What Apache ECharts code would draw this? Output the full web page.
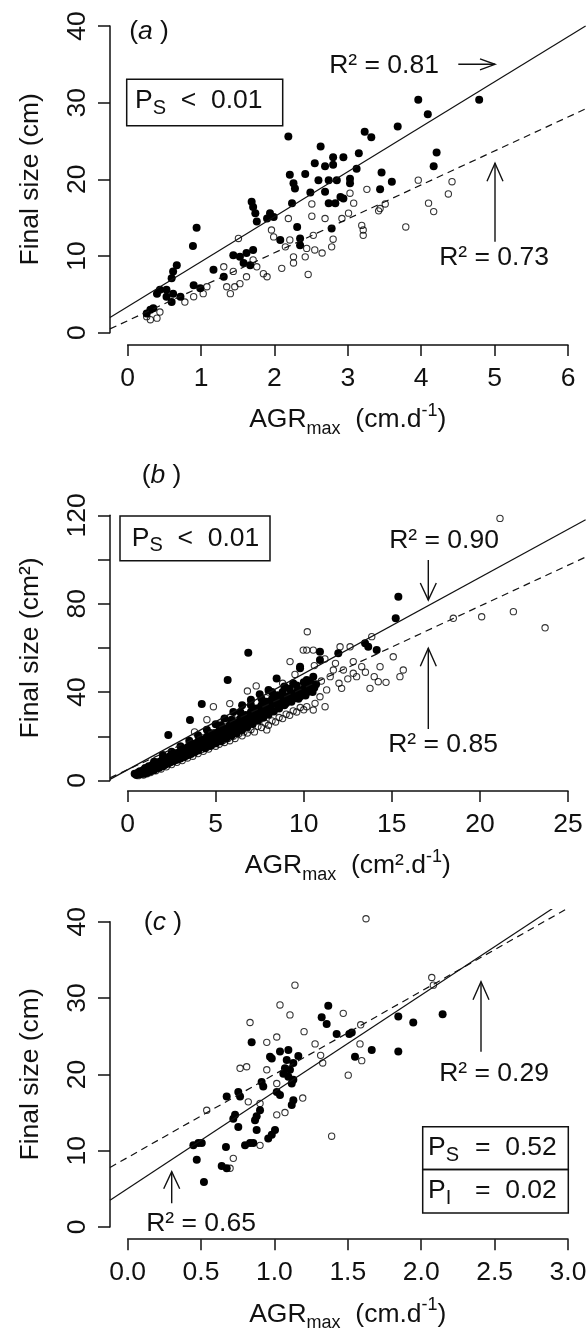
<!DOCTYPE html>
<html><head><meta charset="utf-8">
<script src="https://cdn.jsdelivr.net/npm/echarts@6/dist/echarts.min.js"></script>
<style>html,body{margin:0;padding:0;background:#fff}#c{width:588px;height:1334px}</style>
</head><body><div id="c"></div>
<script>
// ---------------- DATA ----------------
// Panel (a): length, AGRmax (cm/d) vs final size (cm)
const a_filled = [[3.96,30.4],[4.79,30.4],[4.09,28.5],[3.68,26.9],[3.23,26.2],[3.32,25.5],[2.63,24.3],[3.15,23.4],[4.21,23.5],[2.80,22.9],[2.94,22.9],[2.55,22.1],[2.69,21.7],[2.80,21.9],[3.12,21.4],[4.17,21.7],[2.42,20.7],[2.60,19.9],[2.74,19.9],[2.85,19.9],[3.03,20.1],[3.03,19.5],[3.46,20.9],[3.60,19.7],[3.44,18.7],[2.49,18.3],[2.69,18.4],[2.90,17.7],[2.74,16.9],[2.83,16.9],[2.94,17.5],[2.35,12.3],[2.35,11.4],[2.21,20.6],[2.26,19.5],[2.28,18.8],[1.69,17.1],[1.71,16.4],[1.74,15.6],[2.24,16.9],[1.94,15.6],[1.99,15.1],[1.90,14.9],[1.76,14.5],[2.31,13.8],[0.94,13.7],[0.89,11.3],[2.08,12.1],[1.44,10.1],[1.53,9.9],[1.62,10.4],[1.71,10.8],[1.58,9.1],[1.67,8.8],[1.17,8.2],[1.31,7.3],[0.67,8.8],[0.62,8.0],[0.60,7.1],[0.90,6.2],[0.99,5.8],[0.44,5.6],[0.53,5.6],[0.62,5.1],[0.53,4.7],[0.60,4.0],[0.72,4.7],[0.40,5.1],[0.31,3.0],[0.35,3.2],[0.26,2.5],[2.19,25.6],[2.78,13.6]];
const a_open = [[3.96,19.9],[4.42,19.7],[4.37,18.1],[3.26,18.7],[3.03,18.2],[3.08,16.9],[2.51,16.8],[2.51,15.2],[2.69,14.9],[2.92,14.9],[3.01,15.6],[3.19,14.0],[3.21,13.4],[3.21,12.7],[3.44,16.2],[3.51,16.8],[3.42,15.9],[4.10,16.9],[4.17,15.8],[3.79,13.8],[2.80,12.2],[2.53,12.7],[2.44,11.0],[2.55,10.8],[2.65,10.4],[2.78,11.2],[2.42,9.9],[2.46,7.6],[1.51,12.3],[2.19,14.9],[1.96,13.4],[1.99,12.5],[2.21,12.1],[2.15,11.2],[2.26,9.9],[2.26,9.1],[2.10,8.4],[1.71,9.5],[1.76,8.6],[1.85,7.7],[1.90,7.3],[1.62,7.3],[1.44,8.0],[1.53,6.4],[1.46,6.0],[1.31,8.6],[1.35,6.0],[1.40,5.1],[1.08,6.0],[1.03,5.1],[0.90,4.7],[0.78,4.0],[0.44,2.7],[0.40,1.9],[0.26,2.1],[0.31,1.7]];
const a_solid = [[-0.24,2.0],[6.24,40.0]];
const a_dashed = [[-0.24,0.5],[6.24,29.2]];

// Panel (b): area, AGRmax (cm2/d) vs final size (cm2)
const b_filled = [[15.37,83.2],[15.22,73.4],[13.48,62.1],[13.66,60.5],[14.14,59.0],[10.92,58.3],[10.92,54.5],[11.96,57.6],[9.79,51.5],[10.17,45.5],[10.45,42.4],[6.85,57.8],[5.68,45.5],[4.21,34.6],[2.31,20.6],[9.79,50.8],[10.54,47.0],[8.46,46.2],[3.54,27.4],
[0.4,3.0],[0.5,2.5],[0.6,3.6],[0.7,2.8],[0.7,4.2],[0.8,3.4],[0.9,4.8],[0.9,3.0],[1.0,4.0],[1.0,5.6],[1.1,4.5],[1.1,3.5],[1.2,5.2],[1.2,6.4],[1.3,4.2],[1.3,5.8],[1.4,7.0],[1.4,5.0],[1.5,6.2],[1.5,4.6],[1.6,7.4],[1.6,5.6],[1.7,6.6],[1.7,8.2],[1.8,5.8],[1.8,7.6],[1.9,8.8],[1.9,6.6],[2.0,7.8],[2.0,9.6],[2.1,7.0],[2.1,8.6],[2.2,10.2],[2.2,7.6],[2.3,9.2],[2.4,11.0],[2.4,8.2],[2.5,9.8],[2.6,11.6],[2.6,8.8],[2.7,10.4],[2.8,12.4],[2.8,9.4],[2.9,11.0],[3.0,13.0],[3.0,10.0],[3.1,11.8],[3.2,14.0],[3.2,10.6],[3.3,12.4],[3.4,15.0],[3.4,11.4],[3.5,13.2],[3.6,15.8],[3.6,12.0],[3.7,14.0],[3.8,16.6],[3.8,12.8],[3.9,14.8],[4.0,17.6],[4.0,13.6],[4.2,15.6],[4.3,18.6],[4.4,14.6],[4.5,16.8],[4.6,19.6],[4.7,15.6],[4.8,18.0],[4.9,21.0],[5.0,16.8],[5.1,19.2],[5.2,22.4],[5.3,17.8],[5.4,20.4],[5.5,23.6],[5.6,19.0],[5.7,21.6],[5.8,25.0],[5.9,20.2],[6.0,23.0],[6.1,26.4],[6.2,21.4],[6.3,24.4],[6.4,28.0],[6.5,22.8],[6.6,25.8],[6.7,29.6],[6.8,24.2],[6.9,27.2],[7.0,31.0],[7.1,25.6],[7.2,28.6],[7.3,32.6],[7.4,27.0],[7.5,30.0],[7.6,34.0],[7.7,28.4],[7.8,31.6],[7.9,35.6],[8.0,29.8],[8.1,33.0],[8.2,37.0],[8.3,31.2],[8.4,34.6],[8.5,38.6],[8.6,32.6],[8.7,36.0],[8.8,40.0],[8.9,34.0],[9.0,37.6],[9.2,41.5],[9.3,35.6],[9.4,39.0],[9.6,43.0],[9.7,37.0],[9.8,40.6],[10.0,44.5],[10.1,38.5],[10.3,42.0],[10.5,40.0],[10.7,43.5],[2.5,13.0],[3.0,15.5],[3.5,18.0],[4.0,20.5],[4.5,23.0],[5.0,25.5],[5.5,28.0],[6.0,31.0],[6.5,34.0],[7.0,36.5],[7.5,39.0],[8.0,41.0],[2.0,11.5],[1.5,8.5],
[1.0,3.3],[1.2,4.9],[1.5,5.4],[1.8,6.9],[2.0,6.6],[2.2,9.0],[2.5,8.6],[2.7,11.5],[3.0,11.2],[3.2,12.5],[3.5,12.4],[3.7,16.0],[4.0,15.2],[4.1,18.0],[4.3,16.4],[4.5,19.8],[4.7,17.2],[4.9,18.6],[5.0,21.5],[5.2,20.0],[5.4,23.0],[5.6,21.5],[5.8,22.6],[6.0,25.0],[6.2,24.0],[6.4,25.5],[6.6,27.8],[6.8,26.5],[7.0,28.0],[7.2,30.5],[7.4,29.5],[7.6,31.0],[7.8,33.5],[8.0,32.5],[8.2,34.5],[8.4,36.0],[8.6,35.0],[8.8,37.5],[9.0,35.0],[9.2,38.5],[9.4,37.0],[9.6,40.0],[9.8,38.0],[10.0,41.5],[10.2,40.0],[10.4,44.0],[10.6,42.0],[9.4,44.0],[8.9,42.5],[8.2,40.0],[7.6,37.0],[7.0,34.0],[6.4,31.0],[5.9,27.5],[5.3,25.0],[4.7,21.5]];
const b_open = [[21.14,118.6],[10.20,67.3],[18.49,73.4],[20.10,74.1],[21.90,76.4],[23.70,69.1],[13.86,65.1],[15.08,56.0],[15.65,50.0],[15.46,47.0],[13.76,41.7],[14.23,44.7],[14.67,44.4],[10.17,59.0],[10.54,59.0],[12.06,60.5],[12.63,60.5],[12.81,53.8],[13.29,51.5],[11.68,50.0],[12.25,50.0],[12.81,48.5],[12.15,41.7],[11.30,41.0],[10.92,37.9],[10.64,34.9],[11.21,33.4],[10.17,33.4],[10.54,31.9],[14.33,51.5],[9.97,59.0],[9.22,53.8],[7.90,22.9],[4.87,33.4],
[0.6,2.2],[0.8,3.0],[0.9,2.5],[1.0,3.5],[1.1,3.0],[1.2,4.0],[1.3,3.6],[1.4,4.5],[1.5,5.0],[1.6,4.4],[1.7,5.5],[1.8,6.0],[1.9,5.2],[2.0,6.5],[2.1,7.0],[2.2,6.2],[2.3,7.5],[2.4,8.0],[2.5,7.2],[2.6,8.6],[2.7,9.0],[2.8,8.2],[2.9,9.6],[3.0,10.0],[3.1,9.0],[3.2,10.6],[3.3,11.0],[3.4,10.2],[3.5,11.8],[3.6,12.2],[3.7,11.0],[3.8,12.8],[3.9,13.4],[4.0,12.2],[4.2,14.0],[4.3,13.2],[4.5,15.0],[4.6,14.2],[4.8,16.0],[5.0,15.5],[5.0,17.0],[5.2,16.4],[5.4,18.0],[5.5,17.2],[5.7,19.0],[5.8,18.0],[6.0,20.0],[6.1,19.0],[6.3,21.0],[6.5,20.2],[6.6,22.0],[6.8,21.5],[7.0,23.0],[7.2,22.0],[7.4,24.5],[7.6,24.0],[7.8,26.0],[8.0,25.0],[8.2,27.0],[8.4,26.5],[8.6,28.5],[8.8,28.0],[9.0,30.0],[9.2,29.5],[9.4,31.5],[9.6,31.0],[9.8,33.0],[10.0,32.0],[8.5,35],[9.0,38],[7.5,33],[8.0,40],[8.8,44],[9.5,48],[10.6,52],[11.0,45],[11.5,47],[12.0,44],[12.5,46],[13.0,47],[13.5,49],[14.0,47],[11.2,55],[11.8,53],[9.0,42],[7.0,36],[6.2,30],[5.5,27],[6.8,40.5],[7.3,42.8],[5.8,34.8],[4.5,27.5],[3.8,22]];
const b_solid = [[-1,0.5],[26,118.0]];
const b_dashed = [[-1,1.2],[26,101.1]];

// Panel (c): length, AGRmax (cm/d) vs final size (cm)
const c_filled = [[0.845,24.2],[0.970,22.3],[1.038,23.0],[1.095,23.2],[1.163,22.4],[1.367,29.0],[1.322,27.5],[1.356,26.6],[1.424,25.3],[1.510,25.3],[1.527,25.5],[1.844,27.6],[1.946,26.8],[2.146,27.9],[1.663,23.2],[1.549,22.3],[1.844,23.0],[0.982,22.1],[1.084,21.9],[1.129,21.5],[1.072,20.8],[1.106,20.6],[1.061,20.1],[1.095,19.7],[1.129,19.3],[1.118,18.8],[0.913,19.0],[0.924,18.4],[0.675,17.1],[0.754,17.7],[0.766,17.1],[1.016,17.7],[1.038,17.3],[1.129,16.6],[1.118,16.0],[0.902,15.3],[0.879,14.5],[0.868,14.0],[0.732,14.7],[0.720,14.2],[0.754,13.1],[0.879,12.7],[1.004,12.7],[0.982,12.1],[0.958,11.6],[0.448,10.7],[0.482,11.0],[0.505,11.0],[0.800,10.7],[0.834,11.0],[0.856,11.0],[0.670,10.5],[0.471,8.8],[0.641,8.0],[0.675,7.7],[0.520,5.9]];
const c_open = [[1.140,31.7],[1.038,29.1],[1.106,27.8],[0.834,26.8],[0.948,24.2],[1.016,24.9],[1.624,40.4],[2.072,32.7],[2.083,31.7],[1.469,28.0],[1.202,25.6],[1.277,24.0],[1.315,22.5],[1.329,21.5],[1.588,26.5],[1.583,24.0],[1.595,21.8],[1.503,19.9],[1.193,16.9],[1.390,11.9],[0.766,20.8],[0.811,21.0],[0.948,20.6],[1.016,18.8],[0.539,15.3],[0.822,16.4],[0.902,16.2],[1.016,14.7],[1.072,15.0],[0.902,10.7],[0.720,9.0],[0.698,7.7]];
const c_solid = [[-0.12,3.5],[3.12,44.6]];
const c_dashed = [[-0.12,7.8],[3.12,43.1]];

const yLabelsB = [0, 40, 80, 120];
const r2Texts = ['R² = 0.81', 'R² = 0.73', 'R² = 0.90', 'R² = 0.85', 'R² = 0.29', 'R² = 0.65'];
const pTexts = ['0.01', '0.01', '0.52', '0.02'];

// ---------------- LAYOUT ----------------
const INK = '#111';
const DOT = '#000';
const FONT = '"Liberation Sans", Arial, Helvetica, sans-serif';
const FS = 26.5;

const panels = [
  { filled: a_filled, open: a_open, solid: a_solid, dashed: a_dashed,
    data: {left:110, top:13.8, width:475.6, height:331.2, xr:[-0.24,6.24], yr:[-1.6,41.6]},
    xax: {axisY:345, max:6, interval:1, fmt: v => String(v), name:'{a|AGR}{s|max}{a|  (cm.d}{p|-1}{a|)}'},
    yax: {top:26.0, height:306.7, max:40, interval:10, fmt: v => String(v), name:'Final size (cm)'} },
  { filled: b_filled, open: b_open, solid: b_solid, dashed: b_dashed,
    data: {left:110, top:504.7, width:475.6, height:286.4, xr:[-1,26], yr:[-4.8,124.8]},
    xax: {axisY:791.1, max:25, interval:5, fmt: v => String(v), name:'{a|AGR}{s|max}{a|  (cm².d}{p|-1}{a|)}'},
    yax: {top:515.3, height:265.2, max:120, interval:20, fmt: v => (yLabelsB.indexOf(v) >= 0 ? String(v) : ''), name:'Final size (cm²)'} },
  { filled: c_filled, open: c_open, solid: c_solid, dashed: c_dashed,
    data: {left:110, top:909.6, width:475.6, height:329.6, xr:[-0.12,3.12], yr:[-1.6,41.6]},
    xax: {axisY:1239.2, max:3, interval:0.5, fmt: v => v.toFixed(1), name:'{a|AGR}{s|max}{a|  (cm.d}{p|-1}{a|)}'},
    yax: {top:921.8, height:305.2, max:40, interval:10, fmt: v => String(v), name:'Final size (cm)'} }
];

const grids = [], xAxes = [], yAxes = [], series = [];
const lineCol = {color: INK, width: 1.5};
const nameRich = {
  a: {fontSize: FS, fontFamily: FONT, color: INK, lineHeight: 36, verticalAlign: 'middle'},
  s: {fontSize: 18, fontFamily: FONT, color: INK, lineHeight: 18, verticalAlign: 'bottom'},
  p: {fontSize: 18, fontFamily: FONT, color: INK, lineHeight: 18, verticalAlign: 'top'}
};

panels.forEach((P, i) => {
  const g = i * 3;
  // data grid
  grids.push({left: P.data.left, top: P.data.top, width: P.data.width, height: P.data.height, containLabel: false, outerBoundsMode: 'none'});
  xAxes.push({gridIndex: g, type: 'value', min: P.data.xr[0], max: P.data.xr[1], show: false});
  yAxes.push({gridIndex: g, type: 'value', min: P.data.yr[0], max: P.data.yr[1], show: false});
  // x axis grid
  grids.push({left: 127.6, top: P.xax.axisY - 1, width: 440.4, height: 1, containLabel: false, outerBoundsMode: 'none'});
  xAxes.push({gridIndex: g + 1, type: 'value', min: 0, max: P.xax.max, interval: P.xax.interval,
    axisLine: {show: true, onZero: false, lineStyle: lineCol},
    axisTick: {show: true, inside: false, length: 11, lineStyle: lineCol},
    axisLabel: {show: true, margin: 20, color: INK, fontSize: FS, fontFamily: FONT, formatter: P.xax.fmt, showMinLabel: true, showMaxLabel: true},
    splitLine: {show: false},
    name: P.xax.name, nameLocation: 'middle', nameGap: 57,
    nameTextStyle: {color: INK, fontSize: FS, fontFamily: FONT, rich: nameRich}});
  yAxes.push({gridIndex: g + 1, type: 'value', min: 0, max: 1, show: false});
  // y axis grid
  grids.push({left: 110, top: P.yax.top, width: 1, height: P.yax.height, containLabel: false, outerBoundsMode: 'none'});
  xAxes.push({gridIndex: g + 2, type: 'value', min: 0, max: 1, show: false});
  yAxes.push({gridIndex: g + 2, type: 'value', min: 0, max: P.yax.max, interval: P.yax.interval,
    axisLine: {show: true, onZero: false, lineStyle: lineCol},
    axisTick: {show: true, inside: false, length: 12, lineStyle: lineCol},
    axisLabel: {show: true, rotate: 90, margin: 19, color: INK, fontSize: FS, fontFamily: FONT, formatter: P.yax.fmt, showMinLabel: true, showMaxLabel: true},
    splitLine: {show: false},
    name: P.yax.name, nameLocation: 'middle', nameGap: 66, nameRotate: 90,
    nameTextStyle: {color: INK, fontSize: FS, fontFamily: FONT}});
  // series
  series.push({type: 'scatter', xAxisIndex: g, yAxisIndex: g, data: P.open, symbol: 'circle', symbolSize: 6.3,
    itemStyle: {color: 'transparent', borderColor: DOT, borderWidth: 1.1}, silent: true, z: 2});
  series.push({type: 'scatter', xAxisIndex: g, yAxisIndex: g, data: P.filled, symbol: 'circle', symbolSize: 8,
    itemStyle: {color: DOT, opacity: 1}, silent: true, z: 3});
  series.push({type: 'line', xAxisIndex: g, yAxisIndex: g, data: P.solid, symbol: 'none', clip: true,
    lineStyle: {color: INK, width: 1.2, type: 'solid'}, silent: true, z: 4});
  series.push({type: 'line', xAxisIndex: g, yAxisIndex: g, data: P.dashed, symbol: 'none', clip: true,
    lineStyle: {color: INK, width: 1.2, type: [7, 5]}, silent: true, z: 4});
});

// ---------------- ANNOTATIONS ----------------
function T(x, y, text, align, rich) {
  const style = {x: x, y: y, text: text, fill: INK, fontFamily: FONT, fontSize: FS,
    align: align || 'center', verticalAlign: 'middle', textAlign: align || 'center', textVerticalAlign: 'middle'};
  if (rich) style.rich = rich;
  return {type: 'text', silent: true, z: 10, style: style};
}
function arrow(x1, y1, x2, y2, L, W) {
  const dx = x2 - x1, dy = y2 - y1, len = Math.hypot(dx, dy), ux = dx / len, uy = dy / len;
  const bx = x2 - ux * L, by = y2 - uy * L, px = -uy, py = ux;
  const st = {stroke: INK, lineWidth: 1.4, fill: 'none'};
  return [
    {type: 'polyline', silent: true, z: 10, shape: {points: [[x1, y1], [x2, y2]]}, style: st},
    {type: 'polyline', silent: true, z: 10, shape: {points: [[bx + px * W, by + py * W], [x2, y2], [bx - px * W, by - py * W]]}, style: st}
  ];
}
function box(x, y, w, h) {
  return {type: 'rect', silent: true, z: 9, shape: {x: x, y: y, width: w, height: h}, style: {fill: 'transparent', stroke: INK, lineWidth: 1.5}};
}
const pRich = {
  m: {fontSize: FS, fontFamily: FONT, fill: INK, color: INK, lineHeight: 34, verticalAlign: 'middle'},
  s: {fontSize: 20, fontFamily: FONT, fill: INK, color: INK, lineHeight: 20, verticalAlign: 'bottom'}
};
const labRich = {
  p: {fontSize: FS, fontFamily: FONT, fill: INK, color: INK},
  i: {fontSize: FS, fontFamily: FONT, fill: INK, color: INK, fontStyle: 'italic'}
};

const elements = [].concat(
  // panel labels
  [T(149, 31.7, '{p|(}{i|a}{p| )}', 'center', labRich),
   T(161.5, 476, '{p|(}{i|b}{p| )}', 'center', labRich),
   T(163, 923, '{p|(}{i|c}{p| )}', 'center', labRich)],
  // P boxes
  [box(126.7, 79.3, 156, 46.4), T(135, 101, '{m|P}{s|S}{m|  <  ' + pTexts[0] + '}', 'left', pRich),
   box(120, 516, 150, 44.7), T(131.7, 538.5, '{m|P}{s|S}{m|  <  ' + pTexts[1] + '}', 'left', pRich),
   box(422.7, 1126.7, 145.6, 42.8), box(422.7, 1169.5, 145.6, 43.5),
   T(428, 1148, '{m|P}{s|S}', 'left', pRich), T(475, 1148, '=  ' + pTexts[2], 'left'),
   T(428, 1191, '{m|P}{s|I}', 'left', pRich), T(475, 1191, '=  ' + pTexts[3], 'left')],
  // R² labels
  [T(384, 66, r2Texts[0]), T(494, 257.5, r2Texts[1]), T(444, 541, r2Texts[2]),
   T(443, 745, r2Texts[3]), T(494, 1074, r2Texts[4]), T(201, 1224, r2Texts[5])],
  // arrows
  arrow(458.3, 64.3, 495, 64.3, 15, 5.5),
  arrow(495, 241.7, 495, 163.3, 18, 8),
  arrow(428.3, 560, 428.3, 600, 17, 8),
  arrow(428.3, 729, 428.3, 648.3, 18, 8),
  arrow(481, 1051.7, 481, 981.7, 18, 8),
  arrow(171.7, 1203.3, 171.7, 1171.7, 17, 8)
);

const chart = echarts.init(document.getElementById('c'), null, {renderer: 'canvas'});
chart.setOption({
  animation: false,
  backgroundColor: '#fff',
  grid: grids, xAxis: xAxes, yAxis: yAxes, series: series,
  graphic: {elements: elements}
});
</script></body></html>
